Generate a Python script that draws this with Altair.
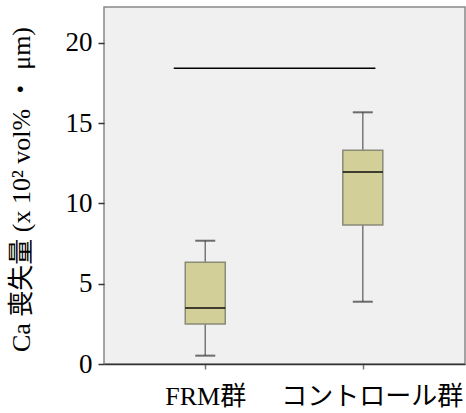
import altair as alt
import pandas as pd

# Ca loss per group: box-plot summary values
groups = ["FRM群", "コントロール群"]
positions = [1, 2]
whisker_low = [0.52, 3.88]
q1 = [2.49, 8.66]
median = [3.49, 11.96]
q3 = [6.34, 13.31]
whisker_high = [7.68, 15.68]

# significance bar between the two groups
sig_level = 18.42
sig_from = 0.80
sig_to = 2.08

df = pd.DataFrame({
    "group": groups,
    "pos": positions,
    "lo": whisker_low,
    "q1": q1,
    "med": median,
    "q3": q3,
    "hi": whisker_high,
})
sig = pd.DataFrame({"x": [sig_from], "x2": [sig_to], "y": [sig_level]})

FONT = "Liberation Serif, Noto Sans CJK JP"
label_expr = " : ".join(
    f"datum.value == {p} ? '{g}'" for p, g in zip(positions, groups)
) + " : ''"

x_scale = alt.Scale(domain=[0.389, 2.617], nice=False, zero=False)
y_scale = alt.Scale(domain=[0, 22.24], nice=False, zero=True)

x_enc = alt.X(
    "pos:Q",
    scale=x_scale,
    axis=alt.Axis(
        values=positions,
        labelExpr=label_expr,
        title=None,
        grid=False,
        domainColor="#333333",
        domainWidth=1.5,
        tickColor="#777777",
        tickWidth=1.5,
        tickSize=5,
        labelPadding=14,
        labelLimit=400,
        labelFont=FONT,
        labelFontSize=26,
        labelColor="#000000",
        labelOffset={"condition": {"test": f"datum.value == {positions[1]}", "value": 9}, "value": 0},
    ),
)
y_axis = alt.Axis(
    values=[0, 5, 10, 15, 20],
    title="Ca 喪失量 (x 10² vol% ・ μm)",
    titleFont=FONT,
    titleFontSize=26,
    titleFontWeight="normal",
    titleColor="#000000",
    titleX=-75,
    titleY=189 - 7,
    titleBaseline="alphabetic",
    titleLimit=500,
    grid=False,
    domain=False,
    tickColor="#333333",
    tickWidth=1.5,
    tickSize=6,
    labelPadding=6,
    labelFont=FONT,
    labelFontSize=27,
    labelColor="#000000",
)

base = alt.Chart(df)

whiskers = base.mark_rule(color="#777777", strokeWidth=1.5).encode(
    x=x_enc,
    y=alt.Y("lo:Q", scale=y_scale, axis=y_axis),
    y2="hi:Q",
)
boxes = base.mark_bar(
    size=40, color="#d3cf99", stroke="#8a8a78", strokeWidth=1.5
).encode(x="pos:Q", y="q1:Q", y2="q3:Q")
medians = base.mark_tick(
    orient="horizontal", size=40, thickness=2.2, color="#000000"
).encode(x="pos:Q", y="med:Q")
caps_hi = base.mark_tick(
    orient="horizontal", size=20, thickness=2, color="#333333"
).encode(x="pos:Q", y="hi:Q")
caps_lo = base.mark_tick(
    orient="horizontal", size=20, thickness=2, color="#333333"
).encode(x="pos:Q", y="lo:Q")

sig_line = alt.Chart(sig).mark_rule(color="#000000", strokeWidth=1.5).encode(
    x="x:Q", x2="x2:Q", y="y:Q"
)

chart = (
    alt.layer(whiskers, boxes, medians, caps_hi, caps_lo, sig_line)
    .properties(
        width=361,
        height=357,
        autosize=alt.AutoSizeParams(type="none"),
        padding={"left": 104, "top": 7, "right": 1, "bottom": 49},
        background="#ffffff",
    )
    .configure_view(fill="#f0f0f0", stroke="#888888", strokeWidth=1.5)
)

chart.save("out.html", embed_options={"renderer": "svg", "actions": False})
